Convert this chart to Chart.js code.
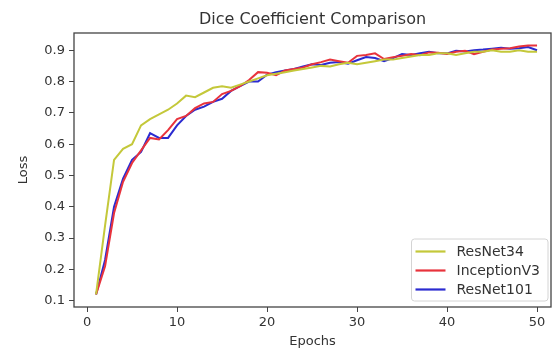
<!DOCTYPE html>
<html>
<head>
<meta charset="utf-8">
<script src="https://cdn.jsdelivr.net/npm/chart.js@4"></script>
<style>
  html, body { margin: 0; padding: 0; background: #fff; }
  #wrap { width: 554px; height: 351px; }
</style>
</head>
<body>
<div id="wrap"><canvas id="diceCanvas"></canvas></div>
<script>
// values
const epochs = Array.from({length: 50}, (_, i) => i + 1);

const resnet34 = [0.12, 0.34, 0.55, 0.585, 0.60, 0.66, 0.68, 0.695, 0.71, 0.73,
    0.755, 0.75, 0.765, 0.78, 0.785, 0.78, 0.79, 0.80, 0.81, 0.82,
    0.825, 0.83, 0.835, 0.84, 0.845, 0.85, 0.848, 0.855, 0.86, 0.855,
    0.86, 0.865, 0.87, 0.87, 0.875, 0.88, 0.885, 0.885, 0.89, 0.89,
    0.885, 0.89, 0.895, 0.895, 0.90, 0.895, 0.895, 0.90, 0.895, 0.895];

const inceptionV3 = [0.12, 0.21, 0.38, 0.48, 0.54, 0.58, 0.62, 0.615, 0.645, 0.68,
    0.69, 0.715, 0.73, 0.735, 0.76, 0.77, 0.785, 0.805, 0.83, 0.828,
    0.82, 0.835, 0.84, 0.845, 0.855, 0.862, 0.87, 0.865, 0.86, 0.882,
    0.885, 0.89, 0.872, 0.878, 0.882, 0.888, 0.884, 0.893, 0.892, 0.888,
    0.895, 0.898, 0.887, 0.895, 0.902, 0.905, 0.906, 0.912, 0.915, 0.915];

const resnet101 = [0.12, 0.23, 0.40, 0.49, 0.55, 0.575, 0.635, 0.62, 0.62, 0.66,
    0.69, 0.71, 0.72, 0.735, 0.745, 0.77, 0.785, 0.80, 0.80, 0.822,
    0.83, 0.835, 0.84, 0.848, 0.855, 0.853, 0.86, 0.862, 0.857, 0.868,
    0.878, 0.875, 0.865, 0.875, 0.888, 0.885, 0.89, 0.895, 0.89, 0.89,
    0.898, 0.896, 0.90, 0.902, 0.905, 0.908, 0.905, 0.906, 0.91, 0.90];

const xTicks = [0, 10, 20, 30, 40, 50];
const yTicks = [0.1, 0.2, 0.3, 0.4, 0.5, 0.6, 0.7, 0.8, 0.9];

const FONT = "'DejaVu Sans', sans-serif";
const TXT = '#333';

// box round the plot and a legend inside it, matplotlib style
const frameAndLegend = {
    id: 'frameAndLegend',
    afterDatasetsDraw(chart) {
        const ctx = chart.ctx;
        const a = chart.chartArea;
        ctx.save();
        ctx.strokeStyle = '#444';
        ctx.lineWidth = 1.3;
        ctx.strokeRect(a.left, a.top, a.right - a.left, a.bottom - a.top);

        ctx.font = '14px ' + FONT;
        const sets = chart.data.datasets;
        let tw = 0;
        sets.forEach(d => { tw = Math.max(tw, ctx.measureText(d.label).width); });
        const rowH = 19;
        const w = 45 + tw + 8;
        const h = rowH * sets.length + 5;
        const x = a.right - 3 - w;
        const y = a.bottom - 6 - h;
        ctx.fillStyle = 'rgba(255,255,255,0.85)';
        ctx.strokeStyle = '#d4d4d4';
        ctx.lineWidth = 1;
        ctx.beginPath();
        ctx.roundRect(x, y, w, h, 3);
        ctx.fill();
        ctx.stroke();
        sets.forEach((d, i) => {
            const cy = y + 3 + rowH * i + rowH / 2;
            ctx.strokeStyle = d.borderColor;
            ctx.lineWidth = 2.2;
            ctx.beginPath();
            ctx.moveTo(x + 4, cy);
            ctx.lineTo(x + 34, cy);
            ctx.stroke();
            ctx.fillStyle = TXT;
            ctx.textBaseline = 'middle';
            ctx.fillText(d.label, x + 45, cy + 1);
        });
        ctx.restore();
    }
};

const ctx = document.getElementById('diceCanvas').getContext('2d');
new Chart(ctx, {
    type: 'line',
    data: {
        labels: epochs,
        datasets: [
            { label: 'ResNet34', data: resnet34, borderColor: '#c4c83a' },
            { label: 'InceptionV3', data: inceptionV3, borderColor: '#e8333c' },
            { label: 'ResNet101', data: resnet101, borderColor: '#2b2bd0' }
        ].map(d => Object.assign(d, {
            data: d.data.map((v, i) => ({x: epochs[i], y: v})),
            borderWidth: 2, pointRadius: 0, tension: 0, fill: false
        }))
    },
    options: {
        responsive: true,
        maintainAspectRatio: false,
        animation: false,
        layout: { padding: { left: 0, right: 3, top: 0, bottom: 0 } },
        plugins: {
            legend: { display: false },
            tooltip: { enabled: false },
            title: {
                display: true,
                text: 'Dice Coefficient Comparison',
                fullSize: false,
                color: TXT,
                font: { family: FONT, size: 16, weight: 'normal' },
                padding: { top: 10.4, bottom: 3.4 }
            }
        },
        scales: {
            x: {
                type: 'linear',
                min: -1.45,
                max: 51.55,
                afterBuildTicks: s => { s.ticks = xTicks.map(v => ({value: v})); },
                afterFit: s => { s.height = 44; },
                grid: { drawOnChartArea: false, drawTicks: true, tickLength: 5, color: '#444' },
                border: { display: false },
                ticks: { color: TXT, font: { family: FONT, size: 13 }, padding: 3, maxRotation: 0 },
                title: { display: true, text: 'Epochs', color: TXT, font: { family: FONT, size: 13 }, padding: { top: 0, bottom: 2 } }
            },
            y: {
                min: 0.08,
                max: 0.955,
                afterBuildTicks: s => { s.ticks = yTicks.map(v => ({value: v})); },
                afterFit: s => { s.width = 74; },
                grid: { drawOnChartArea: false, drawTicks: true, tickLength: 5, color: '#444' },
                border: { display: false },
                ticks: { color: TXT, font: { family: FONT, size: 13 }, padding: 4, callback: v => v.toFixed(1) },
                title: { display: true, text: 'Loss', color: TXT, font: { family: FONT, size: 13 }, padding: { top: 16, bottom: 0 } }
            }
        }
    },
    plugins: [frameAndLegend]
});
</script>
</body>
</html>
